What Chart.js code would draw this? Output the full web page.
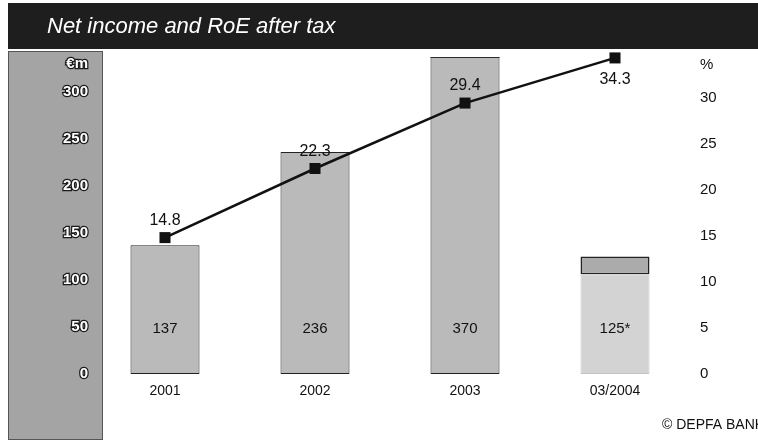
<!DOCTYPE html>
<html>
<head>
<meta charset="utf-8">
<title>Net income and RoE after tax</title>
<script src="https://cdn.jsdelivr.net/npm/chart.js@4/dist/chart.umd.min.js"></script>
<style>
  html, body { margin: 0; padding: 0; background: #ffffff; }
  #wrap { width: 758px; height: 443px; }
</style>
</head>
<body>
<div id="wrap"><canvas id="chart" width="758" height="443"></canvas></div>
<script>
// Net income (EUR m) and return on equity after tax (%)
const categories = ['2001', '2002', '2003', '03/2004'];
const netIncome = [137, 236, 370, 125];
const netIncomeTopBand = [null, null, null, 19];
const netIncomeNotes = ['', '', '', '*'];
const roeAfterTax = [14.8, 22.3, 29.4, 34.3];
const incomeTicks = [0, 50, 100, 150, 200, 250, 300];
const roeTicks = [0, 5, 10, 15, 20, 25, 30];
const incomeUnit = '€m';
const roeUnit = '%';
const titleText = 'Net income and RoE after tax';
const sourceText = '© DEPFA BANK';

const FONT = '"Liberation Sans", Arial, Helvetica, sans-serif';

// lower part of each bar = total minus the highlighted top band
const netIncomeBase = netIncome.map((v, i) => v - (netIncomeTopBand[i] || 0));

// unit captions sit just above the highest numbered tick
const INCOME_UNIT_AT = 330;
const ROE_UNIT_AT = 33.5;

const frame = {
  id: 'frame',
  beforeDraw(chart) {
    const ctx = chart.ctx;
    ctx.save();
    // dark title banner
    ctx.fillStyle = '#1e1e1e';
    ctx.fillRect(8, 3, 750, 46);
    ctx.fillStyle = '#ffffff';
    ctx.font = 'italic 22px ' + FONT;
    ctx.textBaseline = 'alphabetic';
    ctx.textAlign = 'left';
    ctx.fillText(titleText, 47, 33);
    // grey axis column on the left
    ctx.fillStyle = '#a4a4a4';
    ctx.fillRect(8, 51, 95, 389);
    ctx.strokeStyle = '#555555';
    ctx.lineWidth = 1;
    ctx.strokeRect(8.5, 51.5, 94, 388);
    ctx.restore();
  },
  afterDatasetsDraw(chart) {
    const ctx = chart.ctx;
    const area = chart.chartArea;
    const yScale = chart.scales.y;
    ctx.save();
    // top edge for bars that run past the plot area
    const baseMeta = chart.getDatasetMeta(0);
    ctx.strokeStyle = '#2a2a2a';
    ctx.lineWidth = 1;
    baseMeta.data.forEach((el) => {
      if (el.y < area.top) {
        ctx.beginPath();
        ctx.moveTo(el.x - el.width / 2, area.top + 0.5);
        ctx.lineTo(el.x + el.width / 2, area.top + 0.5);
        ctx.stroke();
      }
    });
    // net income values inside the bars
    ctx.fillStyle = '#111111';
    ctx.font = '15px ' + FONT;
    ctx.textAlign = 'center';
    ctx.textBaseline = 'middle';
    const zeroY = yScale.getPixelForValue(0);
    baseMeta.data.forEach((el, i) => {
      ctx.fillText(String(netIncome[i]) + netIncomeNotes[i], el.x, zeroY - 45);
    });
    // RoE values next to the markers
    ctx.font = '16px ' + FONT;
    const lineMeta = chart.getDatasetMeta(2);
    lineMeta.data.forEach((el, i) => {
      const last = i === roeAfterTax.length - 1;
      ctx.fillText(roeAfterTax[i].toFixed(1), el.x, last ? el.y + 22 : el.y - 17);
    });
    ctx.restore();
  },
  afterDraw(chart) {
    const ctx = chart.ctx;
    ctx.save();
    ctx.fillStyle = '#111111';
    ctx.font = '14px ' + FONT;
    ctx.textAlign = 'left';
    ctx.textBaseline = 'middle';
    ctx.fillText(sourceText, 662, 425);
    ctx.restore();
  }
};

new Chart(document.getElementById('chart'), {
  data: {
    labels: categories,
    datasets: [
      {
        type: 'bar',
        label: 'Net income',
        data: netIncomeBase,
        yAxisID: 'y',
        stack: 'income',
        order: 1,
        backgroundColor: ['#bababa', '#bababa', '#bababa', '#d3d3d3'],
        borderColor: ['#222222', '#222222', '#222222', '#c4c4c4'],
        borderWidth: 1,
        borderSkipped: false,
        barPercentage: 0.46,
        categoryPercentage: 1
      },
      {
        type: 'bar',
        label: 'Net income (top band)',
        data: netIncomeTopBand,
        yAxisID: 'y',
        stack: 'income',
        order: 1,
        backgroundColor: '#ababab',
        borderColor: '#222222',
        borderWidth: 1.5,
        borderSkipped: false,
        barPercentage: 0.46,
        categoryPercentage: 1
      },
      {
        type: 'line',
        label: 'RoE after tax',
        data: roeAfterTax,
        yAxisID: 'y1',
        order: 0,
        clip: false,
        borderColor: '#111111',
        borderWidth: 2.5,
        tension: 0,
        pointStyle: 'rect',
        pointRadius: 7.8,
        pointBackgroundColor: '#111111',
        pointBorderColor: '#111111',
        pointBorderWidth: 0
      }
    ]
  },
  options: {
    responsive: false,
    devicePixelRatio: 1,
    animation: false,
    layout: { padding: { top: 57, bottom: 29, left: 0, right: 0 } },
    plugins: {
      legend: { display: false },
      tooltip: { enabled: false },
      title: { display: false }
    },
    scales: {
      x: {
        stacked: true,
        offset: true,
        grid: { display: false, drawTicks: false },
        border: { display: false },
        ticks: { color: '#111111', font: { family: FONT, size: 14 }, padding: 9 },
        afterFit(s) { s.height = 40; }
      },
      y: {
        position: 'left',
        stacked: true,
        min: 0,
        max: 337,
        grid: { display: false, drawTicks: false },
        border: { display: false },
        afterBuildTicks(s) {
          s.ticks = incomeTicks.concat([INCOME_UNIT_AT]).map((v) => ({ value: v }));
        },
        ticks: {
          color: '#ffffff',
          textStrokeColor: '#1a1a1a',
          textStrokeWidth: 2.5,
          font: { family: FONT, size: 15, weight: 'bold' },
          padding: 2,
          callback: (v) => (v === INCOME_UNIT_AT ? incomeUnit : String(v))
        },
        afterFit(s) { s.width = 90; }
      },
      y1: {
        position: 'right',
        min: 0,
        max: 34.4,
        grid: { display: false, drawTicks: false },
        border: { display: false },
        afterBuildTicks(s) {
          s.ticks = roeTicks.concat([ROE_UNIT_AT]).map((v) => ({ value: v }));
        },
        ticks: {
          color: '#111111',
          font: { family: FONT, size: 15 },
          padding: 10,
          callback: (v) => (v === ROE_UNIT_AT ? roeUnit : String(v))
        },
        afterFit(s) { s.width = 68; }
      }
    }
  },
  plugins: [frame]
});
</script>
</body>
</html>
